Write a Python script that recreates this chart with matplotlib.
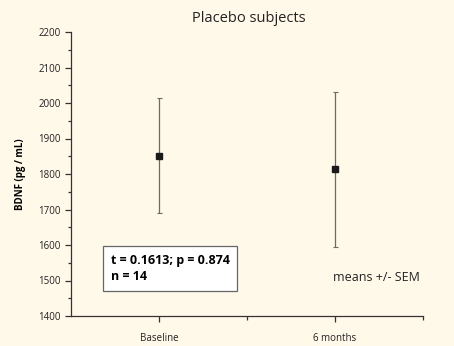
import matplotlib
matplotlib.use('Agg')
import matplotlib.pyplot as plt
from matplotlib.ticker import MultipleLocator

# BDNF means and SEM at each time point
groupes = ['Baseline', '6 months']
moyennes = [1852, 1813]
sem = [162, 219]

fond = '#fff9ea'
fig = plt.figure(figsize=(4.54, 3.46), dpi=100, facecolor=fond)
ax = fig.add_axes([71/454, 30/346, 352/454, 284/346], facecolor=fond)

x = [1, 2]
ax.errorbar(x, moyennes, yerr=sem, fmt='s', color='#1a1a1a', ms=5,
            ecolor='#6a6a6a', elinewidth=0.9, capsize=1.8, capthick=0.8)

ax.set_xlim(0.5, 2.5)
ax.set_ylim(1400, 2200)
ax.yaxis.set_major_locator(MultipleLocator(100))
ax.yaxis.set_minor_locator(MultipleLocator(50))
ax.set_xticks([1, 2])
ax.set_xticklabels(groupes)
ax.set_xticks([1.5, 2.5], minor=True)

for s in ['top', 'right']:
    ax.spines[s].set_visible(False)
for s in ['left', 'bottom']:
    ax.spines[s].set_color('#333333')
    ax.spines[s].set_linewidth(0.9)
ax.tick_params(axis='both', which='major', length=4, width=0.9, color='#333333',
               labelsize=7, labelcolor='#222222')
ax.tick_params(axis='y', which='minor', length=2, width=0.9, color='#333333')
ax.tick_params(axis='x', which='minor', length=3, width=0.9, color='#333333')
ax.tick_params(axis='x', which='major', pad=8)
for lab in ax.get_xticklabels() + ax.get_yticklabels():
    lab.set_fontfamily('Open Sans')

ax.set_ylabel('BDNF (pg / mL)', fontsize=7, fontweight='bold', labelpad=9,
              fontfamily='Open Sans')
fig.text(0.5 + 22/454, 1 - 18/346, 'Placebo subjects', ha='center', va='center',
         fontsize=10.5, fontfamily='Open Sans', color='#222222')

ax.text(0.113, 0.167, 't = 0.1613; p = 0.874\nn = 14', transform=ax.transAxes,
        fontsize=9, fontweight='bold', fontfamily='Open Sans', va='center',
        linespacing=1.35,
        bbox=dict(boxstyle='square,pad=0.6', fc='white', ec='#666666', lw=0.9))
ax.text(0.99, 0.135, 'means +/- SEM', transform=ax.transAxes, ha='right',
        va='center', fontsize=9, fontfamily='Open Sans', color='#222222')

fig.savefig('out.png', dpi=100, facecolor=fond)
